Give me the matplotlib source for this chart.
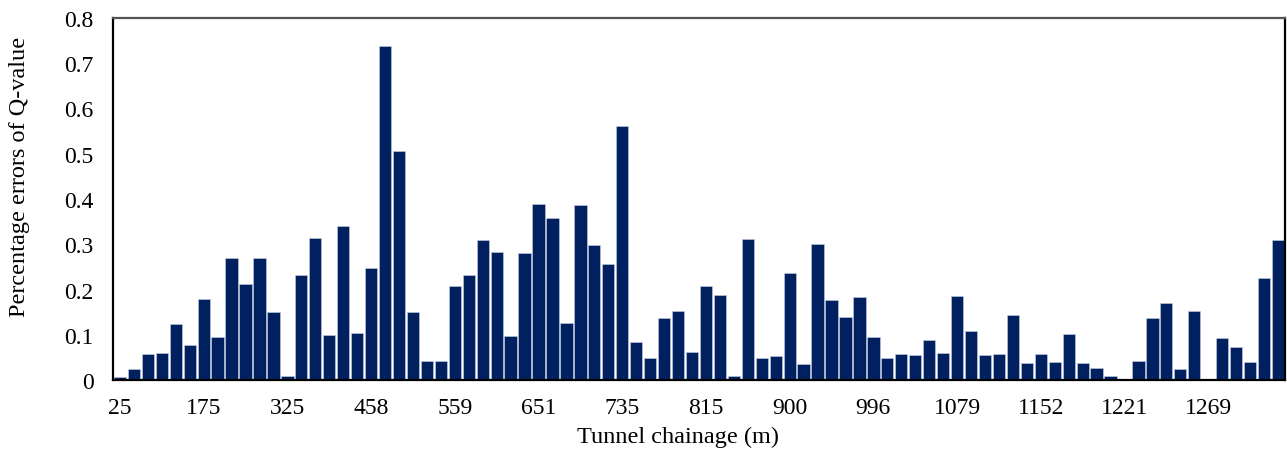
import matplotlib
matplotlib.use("Agg")
import matplotlib.pyplot as plt
import numpy as np

plt.rcParams['font.family'] = ['Liberation Serif', 'DejaVu Serif']

# percentage error of Q-value for each tunnel section (84 sections)
errors = [
    0.006, 0.024, 0.057, 0.060, 0.124, 0.077, 0.179, 0.094, 0.269, 0.212,
    0.270, 0.150, 0.009, 0.231, 0.313, 0.099, 0.340, 0.104, 0.247, 0.739,
    0.506, 0.150, 0.043, 0.042, 0.207, 0.231, 0.309, 0.283, 0.097, 0.281,
    0.390, 0.359, 0.127, 0.386, 0.298, 0.256, 0.561, 0.085, 0.049, 0.138,
    0.152, 0.063, 0.208, 0.187, 0.010, 0.311, 0.048, 0.053, 0.236, 0.035,
    0.301, 0.177, 0.139, 0.184, 0.096, 0.048, 0.058, 0.055, 0.088, 0.060,
    0.186, 0.108, 0.055, 0.057, 0.144, 0.037, 0.057, 0.039, 0.102, 0.037,
    0.027, 0.010, 0.000, 0.041, 0.137, 0.170, 0.024, 0.152, 0.000, 0.092,
    0.072, 0.039, 0.226, 0.309,
]
# chainage labels shown on the axis (every 6th section)
chainage_labels = ['25', '175', '325', '458', '559', '651', '735', '815',
                   '900', '996', '1079', '1152', '1221', '1269']
label_step = 6

BAR_COL = '#002060'

fig = plt.figure(figsize=(12.87, 4.52), dpi=100, facecolor='white')
ax = fig.add_axes([0.0878, 0.157, 0.9106, 0.801])

x = np.arange(len(errors))
ax.bar(x, errors, width=0.88, color=BAR_COL, edgecolor='#c9d0e2', linewidth=0.4)

ax.set_xlim(-0.5, len(errors) - 0.5)
ax.set_ylim(0, 0.8)
ax.set_yticks(np.arange(0, 0.81, 0.1))
ax.set_yticklabels(['0'] + [f'{v:.1f}' for v in np.arange(0.1, 0.81, 0.1)])
ax.set_xticks(x[::label_step])
ax.set_xticklabels(chainage_labels)

ax.tick_params(axis='both', length=0, labelsize=17)
ax.tick_params(axis='y', pad=14)
ax.tick_params(axis='x', pad=12)

for side in ['left', 'bottom', 'right']:
    ax.spines[side].set_color('black')
    ax.spines[side].set_linewidth(1.6)
ax.spines['top'].set_color('#555555')
ax.spines['top'].set_linewidth(1.6)

ax.set_xlabel('Tunnel chainage (m)', fontsize=17.5)
ax.set_ylabel('Percentage errors of Q-value', fontsize=17.5)
ax.xaxis.set_label_coords(0.482, -0.155)
ax.yaxis.set_label_coords(-0.080, 0.565)
ax.xaxis.label.set_va('center')
ax.yaxis.label.set_va('center')

plt.savefig('out.png', dpi=100, facecolor='white')
